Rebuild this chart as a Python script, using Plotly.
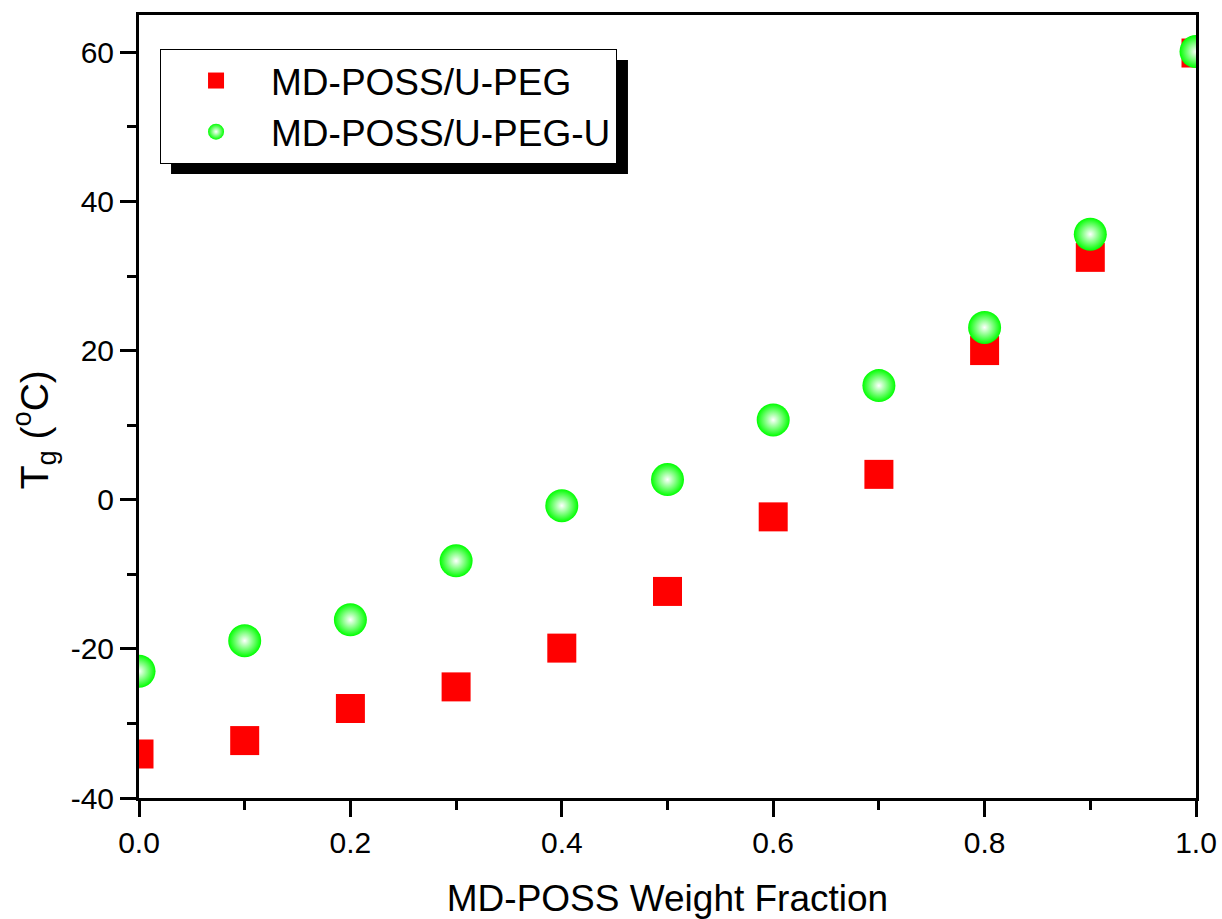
import plotly.graph_objects as go

x_frac = [0.0, 0.1, 0.2, 0.3, 0.4, 0.5, 0.6, 0.7, 0.8, 0.9, 1.0]
tg_upeg = [-34.1, -32.3, -28.0, -25.1, -19.9, -12.3, -2.3, 3.4, 20.0, 32.5, 59.9]
tg_upegu = [-23.0, -18.9, -16.1, -8.2, -0.8, 2.7, 10.7, 15.3, 23.1, 35.6, 60.1]
name_a = "MD-POSS/U-PEG"
name_b = "MD-POSS/U-PEG-U"
x_title = "MD-POSS Weight Fraction"
y_title = "T<sub>g</sub> (<sup>o</sup>C)"
x_tickvals = [0.0, 0.2, 0.4, 0.6, 0.8, 1.0]
x_ticktext = ["0.0", "0.2", "0.4", "0.6", "0.8", "1.0"]
y_tickvals = [-40, -20, 0, 20, 40, 60]
y_ticktext = ["-40", "-20", "0", "20", "40", "60"]

FONT = "Arial, 'Liberation Sans', sans-serif"

fig = go.Figure()
fig.add_trace(go.Scatter(
    x=x_frac, y=tg_upeg, mode="markers", name=name_a,
    marker=dict(symbol="square", size=29, color="#ff0000", line=dict(width=0)),
))
fig.add_trace(go.Scatter(
    x=x_frac, y=tg_upegu, mode="markers", name=name_b,
    marker=dict(symbol="circle", size=33, color="#00ff00", line=dict(width=0),
                gradient=dict(type="radial", color="#ffffff")),
))

axis_common = dict(
    showline=True, linecolor="black", linewidth=3, mirror=True,
    ticks="outside", ticklen=16, tickwidth=3, tickcolor="black",
    showgrid=False, zeroline=False, automargin=False,
    tickfont=dict(family=FONT, size=30, color="black"),
)

fig.update_xaxes(
    range=[0, 1.0], tickmode="array", tickvals=x_tickvals, ticktext=x_ticktext,
    minor=dict(ticks="outside", ticklen=9, tickwidth=3, dtick=0.1, tick0=0, tickcolor="black"),
    title=dict(text=x_title, font=dict(family=FONT, size=37, color="black"), standoff=28),
    **axis_common,
)
fig.update_yaxes(
    range=[-40, 65], tickmode="array", tickvals=y_tickvals, ticktext=y_ticktext,
    minor=dict(ticks="outside", ticklen=9, tickwidth=3, dtick=10, tick0=-40, tickcolor="black"),
    **axis_common,
)

# y-axis title (placed as a rotated annotation to match the reference position)
fig.add_annotation(
    text=y_title, xref="paper", yref="paper", x=-0.099, y=0.47,
    xanchor="center", yanchor="middle", textangle=-90, showarrow=False,
    font=dict(family=FONT, size=39, color="black"),
)

# legend drop shadow
fig.add_shape(type="rect", xref="paper", yref="paper",
              x0=0.0303, x1=0.4626, y0=0.797, y1=0.9425,
              fillcolor="black", line=dict(width=0), layer="above")

fig.update_layout(
    width=1222, height=919,
    margin=dict(l=139, r=26, t=15, b=121),
    plot_bgcolor="white", paper_bgcolor="white",
    font=dict(family=FONT, color="black"),
    showlegend=True,
    legend=dict(
        x=0.0199, y=0.9566, xanchor="left", yanchor="top",
        bgcolor="white", bordercolor="black", borderwidth=1,
        font=dict(family=FONT, size=37, color="black"),
        itemwidth=100, tracegroupgap=0,
    ),
)

fig.write_html("out.html", config={"displayModeBar": False},
               post_script="document.body.style.margin='0';")
